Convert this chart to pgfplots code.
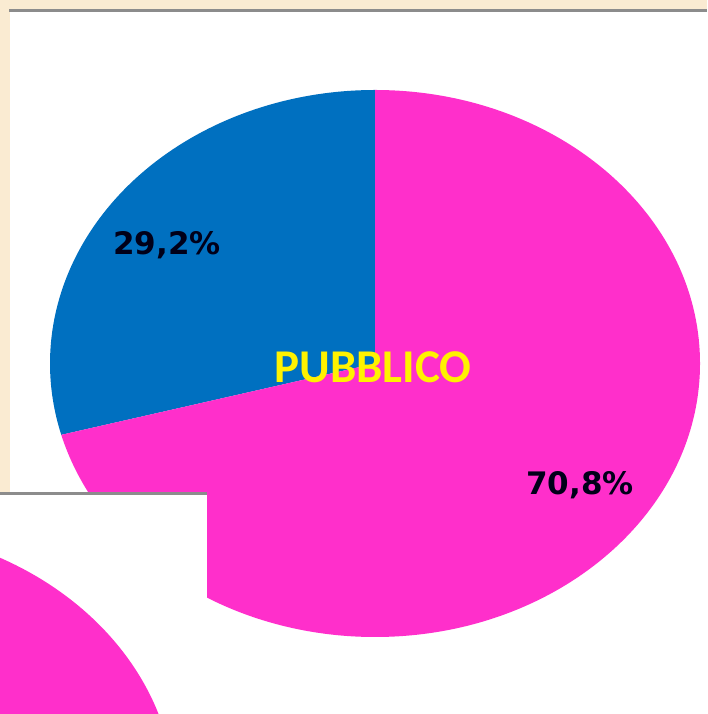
\documentclass[border=0pt]{standalone}
\usepackage{pgfplots}
\pgfplotsset{compat=1.18}
\usepackage{fontspec}
\setmainfont{DejaVu Sans}
\newfontfamily\carlito{Carlito}
\definecolor{bgbeige}{HTML}{FAEBD2}
\definecolor{pieblue}{HTML}{0070C0}
\definecolor{piepink}{HTML}{FF2FCB}
\definecolor{bordergray}{HTML}{8C8C8C}
% pie values (percent)
\def\valPrivato{29.2}
\def\valPubblico{70.8}
\begin{document}
\begin{tikzpicture}
\begin{axis}[
  hide axis, scale only axis,
  width=707pt, height=714pt,
  xmin=0, xmax=707, ymin=0, ymax=714,
  clip=false,
]
% background
\fill[bgbeige] (axis cs:0,0) rectangle (axis cs:707,714);
\fill[white] (axis cs:10,0) rectangle (axis cs:707,703);
\fill[bordergray] (axis cs:9,701.5) rectangle (axis cs:707,704.5);
% pie
\pgfmathsetmacro{\aEnd}{90+3.6*\valPrivato}
\fill[pieblue] (axis cs:375,350.5) -- ++(0,273.5)
   arc[start angle=90, end angle=\aEnd, x radius=325pt, y radius=273.5pt] -- cycle;
\fill[piepink] (axis cs:375,350.5) -- ++(0,273.5)
   arc[start angle=90, end angle={\aEnd-360}, x radius=325pt, y radius=273.5pt] -- cycle;
\node[font=\bfseries\fontsize{31}{31}\selectfont, text=black!90!blue] at (axis cs:167,469) {29,2\%};
\node[font=\bfseries\fontsize{31}{31}\selectfont, text=black!90!blue] at (axis cs:580,229) {70,8\%};
\node[font=\carlito\bfseries\fontsize{47}{47}\selectfont, text=yellow] at (axis cs:373,347) {PUBBLICO};
% overlay of a second panel
\fill[white] (axis cs:0,0) rectangle (axis cs:207,221);
\begin{scope}
\clip (axis cs:0,0) rectangle (axis cs:207,221);
\fill[piepink] (axis cs:-150,-86) ellipse[x radius=325pt, y radius=273pt];
\end{scope}
\fill[bordergray] (axis cs:0,218.5) rectangle (axis cs:207,221.5);
\end{axis}
\end{tikzpicture}
\end{document}
